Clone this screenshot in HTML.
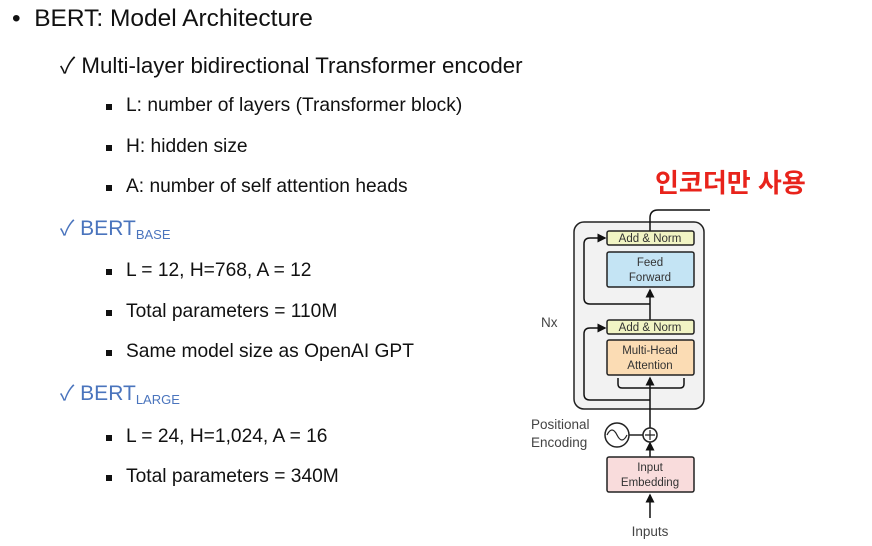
<!DOCTYPE html>
<html><head><meta charset="utf-8"><style>
body{margin:0;width:872px;height:546px;background:#fff;position:relative;overflow:hidden;font-family:"Liberation Sans","Noto Sans CJK KR",sans-serif;color:#111}
.t{position:absolute;white-space:nowrap;line-height:1}
.sq{position:absolute;width:6px;height:6px;background:#111}
.blue{color:#4a74bd}
sub{font-size:13px;vertical-align:-4px}
.i{font-size:19.2px}
</style></head><body>
<div class="t" style="left:12px;top:7px;font-size:24.5px">•&nbsp;&nbsp;BERT: Model Architecture</div>
<div class="t" style="left:60px;top:55px;font-size:22.3px">✓ Multi-layer bidirectional Transformer encoder</div>
<div class="sq" style="left:106px;top:104px"></div><div class="t i" style="left:126px;top:96px">L: number of layers (Transformer block)</div>
<div class="sq" style="left:106px;top:145px"></div><div class="t i" style="left:126px;top:137px">H: hidden size</div>
<div class="sq" style="left:106px;top:185px"></div><div class="t i" style="left:126px;top:177px">A: number of self attention heads</div>
<div class="t blue" style="left:60px;top:218px;font-size:21px">✓ BERT<sub>BASE</sub></div>
<div class="sq" style="left:106px;top:269px"></div><div class="t i" style="left:126px;top:261px">L = 12, H=768, A = 12</div>
<div class="sq" style="left:106px;top:310px"></div><div class="t i" style="left:126px;top:302px">Total parameters = 110M</div>
<div class="sq" style="left:106px;top:350px"></div><div class="t i" style="left:126px;top:342px">Same model size as OpenAI GPT</div>
<div class="t blue" style="left:60px;top:383px;font-size:21px">✓ BERT<sub>LARGE</sub></div>
<div class="sq" style="left:106px;top:435px"></div><div class="t i" style="left:126px;top:427px">L = 24, H=1,024, A = 16</div>
<div class="sq" style="left:106px;top:475px"></div><div class="t i" style="left:126px;top:467px">Total parameters = 340M</div>
<div class="t" style="left:655px;top:170px;font-size:26px;font-weight:bold;color:#e8231b">인코더만 사용</div>
<svg width="872" height="546" style="position:absolute;left:0;top:0" font-family="Liberation Sans, sans-serif">
<defs><marker id="a" markerWidth="6" markerHeight="6" refX="5" refY="3" orient="auto"><path d="M0,0L6,3L0,6z" fill="#111"/></marker></defs>
<rect x="574" y="222" width="130" height="187" rx="10" fill="#f2f2f2" stroke="#222" stroke-width="1.5"/>
<path d="M650,245 L650,218 Q650,210 658,210 L710,210" fill="none" stroke="#111" stroke-width="1.5"/>
<path d="M650,518 L650,495" stroke="#111" stroke-width="1.5" marker-end="url(#a)"/>
<path d="M650,457 L650,443" stroke="#111" stroke-width="1.5" marker-end="url(#a)"/>
<path d="M650,428 L650,378" stroke="#111" stroke-width="1.5" marker-end="url(#a)"/>
<path d="M650,400 L590,400 Q584,400 584,394 L584,334 Q584,328 590,328 L605,328" fill="none" stroke="#111" stroke-width="1.5" marker-end="url(#a)"/>
<path d="M650,388 L622,388 Q618,388 618,384 L618,378 M650,388 L680,388 Q684,388 684,384 L684,378" fill="none" stroke="#111" stroke-width="1.5"/>
<path d="M650,320 L650,290" stroke="#111" stroke-width="1.5" marker-end="url(#a)"/>
<path d="M650,304 L590,304 Q584,304 584,298 L584,244 Q584,238 590,238 L605,238" fill="none" stroke="#111" stroke-width="1.5" marker-end="url(#a)"/>
<rect x="607" y="231" width="87" height="14" rx="2" fill="#f1f4c4" stroke="#222" stroke-width="1.5"/>
<text x="650" y="242" font-size="11.5" text-anchor="middle" fill="#333">Add &amp; Norm</text>
<rect x="607" y="252" width="87" height="35" rx="2" fill="#c4e4f4" stroke="#222" stroke-width="1.5"/>
<text x="650" y="266" font-size="11.5" text-anchor="middle" fill="#333">Feed</text><text x="650" y="281" font-size="11.5" text-anchor="middle" fill="#333">Forward</text>
<rect x="607" y="320" width="87" height="14" rx="2" fill="#f1f4c4" stroke="#222" stroke-width="1.5"/>
<text x="650" y="331" font-size="11.5" text-anchor="middle" fill="#333">Add &amp; Norm</text>
<rect x="607" y="340" width="87" height="35" rx="2" fill="#fbdcb4" stroke="#222" stroke-width="1.5"/>
<text x="650" y="354" font-size="11.5" text-anchor="middle" fill="#333">Multi-Head</text><text x="650" y="369" font-size="11.5" text-anchor="middle" fill="#333">Attention</text>
<rect x="607" y="457" width="87" height="35" rx="2" fill="#f9dcdc" stroke="#222" stroke-width="1.5"/>
<text x="650" y="471" font-size="11.5" text-anchor="middle" fill="#333">Input</text><text x="650" y="486" font-size="11.5" text-anchor="middle" fill="#333">Embedding</text>
<circle cx="617" cy="435" r="12" fill="#fff" stroke="#222" stroke-width="1.5"/>
<path d="M607,435 Q612,425 617,435 Q622,445 627,435" fill="none" stroke="#222" stroke-width="1.2"/>
<line x1="629" y1="435" x2="643" y2="435" stroke="#222" stroke-width="1.5"/>
<circle cx="650" cy="435" r="7" fill="#fff" stroke="#222" stroke-width="1.5"/>
<path d="M645,435h10M650,430v10" stroke="#222" stroke-width="1.2"/>
<text x="531" y="429" font-size="13.5" fill="#444">Positional</text>
<text x="531" y="447" font-size="13.5" fill="#444">Encoding</text>
<text x="541" y="327" font-size="13.5" fill="#444">Nx</text>
<text x="650" y="536" font-size="13.5" text-anchor="middle" fill="#444">Inputs</text>
</svg>
</body></html>
